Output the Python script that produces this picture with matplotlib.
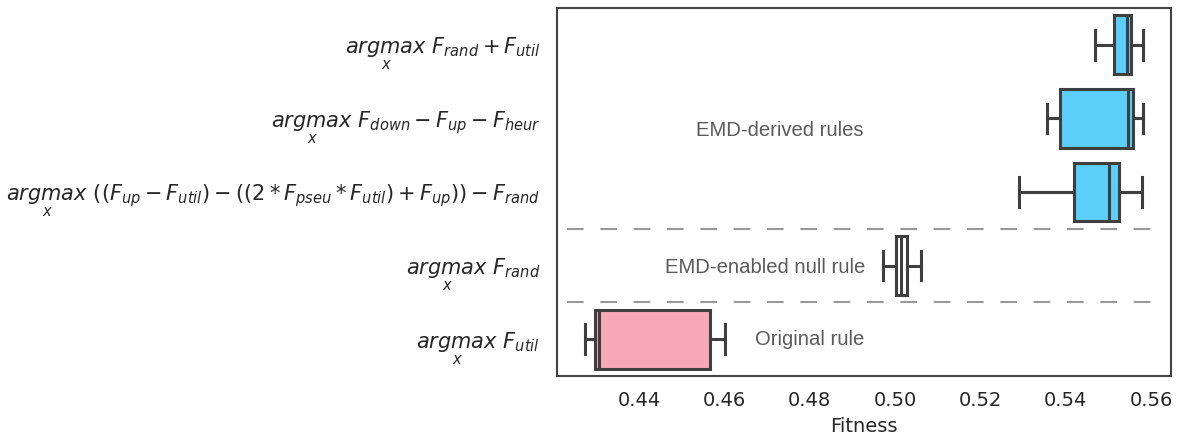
#!/usr/bin/env python3
# -*- coding: UTF-8 -*-

import matplotlib
matplotlib.use('Agg')
from matplotlib import pyplot as plt

# rules, top to bottom
rule_labels = [
    r'$\underset{x}{argmax}\ F_{rand} + F_{util}$',
    r'$\underset{x}{argmax}\ F_{down} - F_{up} - F_{heur}$',
    r'$\underset{x}{argmax}\ ((F_{up} - F_{util}) - ((2 * F_{pseu} * F_{util}) + F_{up})) - F_{rand}$',
    r'$\underset{x}{argmax}\ F_{rand}$',
    r'$\underset{x}{argmax}\ F_{util}$',
]

# box statistics
whis_lo = [0.5469, 0.5356, 0.5291, 0.4973, 0.4273]
q1 = [0.5513, 0.5387, 0.5420, 0.5003, 0.4298]
median = [0.5543, 0.5547, 0.5502, 0.5015, 0.4307]
q3 = [0.5553, 0.5557, 0.5524, 0.5029, 0.4566]
whis_hi = [0.5581, 0.5581, 0.5580, 0.5060, 0.4602]

box_colors = ['#5BCEFA', '#5BCEFA', '#5BCEFA', '#FFFFFF', '#F5A9B8']

group_names = ['EMD-derived rules', 'EMD-enabled null rule', 'Original rule']
group_x = [0.4731, 0.4695, 0.4801]
group_y = [1.16, 3.03, 4.0]
separators = [2.5, 3.5]

edge = '#3f3f3f'

fig = plt.figure(figsize=(11.82, 4.41), dpi=100)
ax = fig.add_axes([0.4712, 0.1474, 0.5195, 0.8345])

stats = []
for i in range(len(rule_labels)):
    stats.append({'whislo': whis_lo[i], 'q1': q1[i], 'med': median[i],
                  'q3': q3[i], 'whishi': whis_hi[i], 'fliers': []})

bp = ax.bxp(stats, positions=range(len(stats)), orientation='horizontal',
            widths=0.8, patch_artist=True, showfliers=False,
            boxprops={'edgecolor': edge, 'linewidth': 2.2},
            medianprops={'color': edge, 'linewidth': 2.2},
            whiskerprops={'color': edge, 'linewidth': 2.2},
            capprops={'color': edge, 'linewidth': 2.2})
for patch, c in zip(bp['boxes'], box_colors):
    patch.set_facecolor(c)

for y in separators:
    ax.axhline(y, xmin=0.016, xmax=0.979, color='#999999', lw=1.5,
               linestyle=(0, (8, 8)))

for name, x, y in zip(group_names, group_x, group_y):
    ax.text(x, y, name, ha='center', va='center', fontsize=14.6,
            color='#5a5a5a', family='Liberation Sans')

ax.set_xlim(0.4208, 0.5647)
ax.set_ylim(4.5, -0.5)
ax.set_xticks([0.44, 0.46, 0.48, 0.50, 0.52, 0.54, 0.56])
ax.set_xticklabels(['0.44', '0.46', '0.48', '0.50', '0.52', '0.54', '0.56'])
ax.set_yticks(range(len(rule_labels)))
ax.set_yticklabels(rule_labels)
ax.tick_params(axis='both', length=0, labelcolor='#262626')
ax.tick_params(axis='x', labelsize=14, pad=11)
ax.tick_params(axis='y', labelsize=15, pad=12)
ax.set_xlabel('Fitness', fontsize=14, color='#262626', labelpad=5)

for s in ax.spines.values():
    s.set_color('#444444')
    s.set_linewidth(1.5)

fig.savefig('out.png', dpi=100)
